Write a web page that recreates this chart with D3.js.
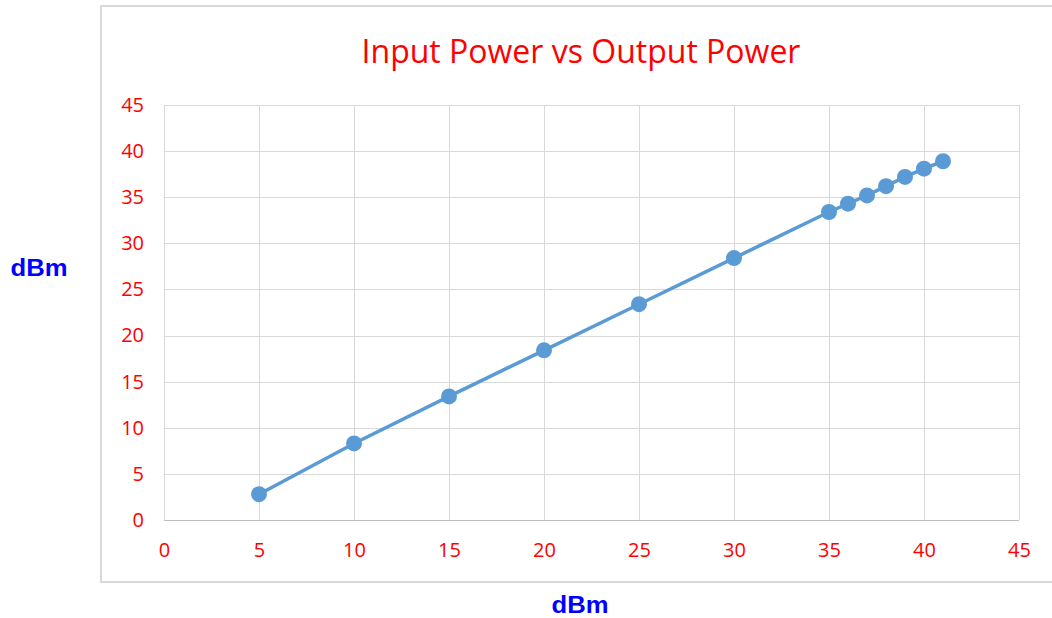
<!DOCTYPE html>
<html>
<head>
<meta charset="utf-8">
<script src="https://cdn.jsdelivr.net/npm/d3@7"></script>
<style>
  body { margin: 0; background: #fff; }
  svg { display: block; }
</style>
</head>
<body>
<div id="chart"></div>
<script>
const inputPower = [5, 10, 15, 20, 25, 30, 35, 36, 37, 38, 39, 40, 41];
const outputPower = [2.8, 8.3, 13.4, 18.4, 23.4, 28.4, 33.4, 34.3, 35.2, 36.2, 37.2, 38.1, 38.9];
const xTicks = [0, 5, 10, 15, 20, 25, 30, 35, 40, 45];
const yTicks = [0, 5, 10, 15, 20, 25, 30, 35, 40, 45];
const title = "Input Power vs Output Power";

const W = 1052, H = 618;
const plot = { left: 164, top: 105, right: 1019, bottom: 520 };

const svg = d3.select("#chart").append("svg")
    .attr("width", W)
    .attr("height", H);

// outer chart frame
svg.append("rect")
    .attr("x", 101).attr("y", 6)
    .attr("width", 1000).attr("height", 576)
    .attr("fill", "#fff")
    .attr("stroke", "#d9d9d9")
    .attr("stroke-width", 2);

const x = d3.scaleLinear().domain([0, 45]).range([plot.left, plot.right]);
const y = d3.scaleLinear().domain([0, 45]).range([plot.bottom, plot.top]);

// gridlines
const grid = svg.append("g").attr("stroke", "#d9d9d9").attr("stroke-width", 1);
grid.selectAll("line.v").data(xTicks).join("line")
    .attr("class", "v")
    .attr("x1", d => Math.round(x(d)) + 0.5).attr("x2", d => Math.round(x(d)) + 0.5)
    .attr("y1", plot.top).attr("y2", plot.bottom);
grid.selectAll("line.h").data(yTicks).join("line")
    .attr("class", "h")
    .attr("y1", d => Math.round(y(d)) + 0.5).attr("y2", d => Math.round(y(d)) + 0.5)
    .attr("x1", plot.left).attr("x2", plot.right);

// axes (labels only, Excel style)
const xAxis = svg.append("g")
    .attr("transform", `translate(0,${plot.bottom})`)
    .call(d3.axisBottom(x).tickValues(xTicks).tickSize(0).tickPadding(23));
const yAxis = svg.append("g")
    .attr("transform", `translate(${plot.left},0)`)
    .call(d3.axisLeft(y).tickValues(yTicks).tickSize(0).tickPadding(20));
[xAxis, yAxis].forEach(a => {
    a.select(".domain").remove();
    a.selectAll("text")
        .attr("fill", "#ff0000")
        .attr("font-family", "'Open Sans', 'Noto Sans', sans-serif")
        .attr("font-size", 20);
});
svg.append("line")
    .attr("x1", plot.left).attr("x2", plot.right)
    .attr("y1", plot.bottom + 0.5).attr("y2", plot.bottom + 0.5)
    .attr("stroke", "#bfbfbf");

// series
const pts = inputPower.map((d, i) => [d, outputPower[i]]);
svg.append("path")
    .datum(pts)
    .attr("fill", "none")
    .attr("stroke", "#5b9bd5")
    .attr("stroke-width", 3.5)
    .attr("d", d3.line().x(d => x(d[0])).y(d => y(d[1])));
svg.selectAll("circle.pt").data(pts).join("circle")
    .attr("class", "pt")
    .attr("cx", d => x(d[0]))
    .attr("cy", d => y(d[1]))
    .attr("r", 8)
    .attr("fill", "#5b9bd5");

// title
svg.append("text")
    .attr("x", 581).attr("y", 63)
    .attr("text-anchor", "middle")
    .attr("fill", "#ff0000")
    .attr("font-family", "'Open Sans', 'Noto Sans', sans-serif")
    .attr("font-size", 32)
    .text(title);

// axis titles
svg.append("text")
    .attr("x", 39).attr("y", 276)
    .attr("text-anchor", "middle")
    .attr("fill", "#0000ff")
    .attr("font-family", "'Liberation Sans', Arial, sans-serif")
    .attr("font-weight", "bold")
    .attr("font-size", 23)
    .attr("textLength", 57)
    .attr("lengthAdjust", "spacingAndGlyphs")
    .text("dBm");
svg.append("text")
    .attr("x", 580).attr("y", 613)
    .attr("text-anchor", "middle")
    .attr("fill", "#0000ff")
    .attr("font-family", "'Liberation Sans', Arial, sans-serif")
    .attr("font-weight", "bold")
    .attr("font-size", 23)
    .attr("textLength", 57)
    .attr("lengthAdjust", "spacingAndGlyphs")
    .text("dBm");
</script>
</body>
</html>
